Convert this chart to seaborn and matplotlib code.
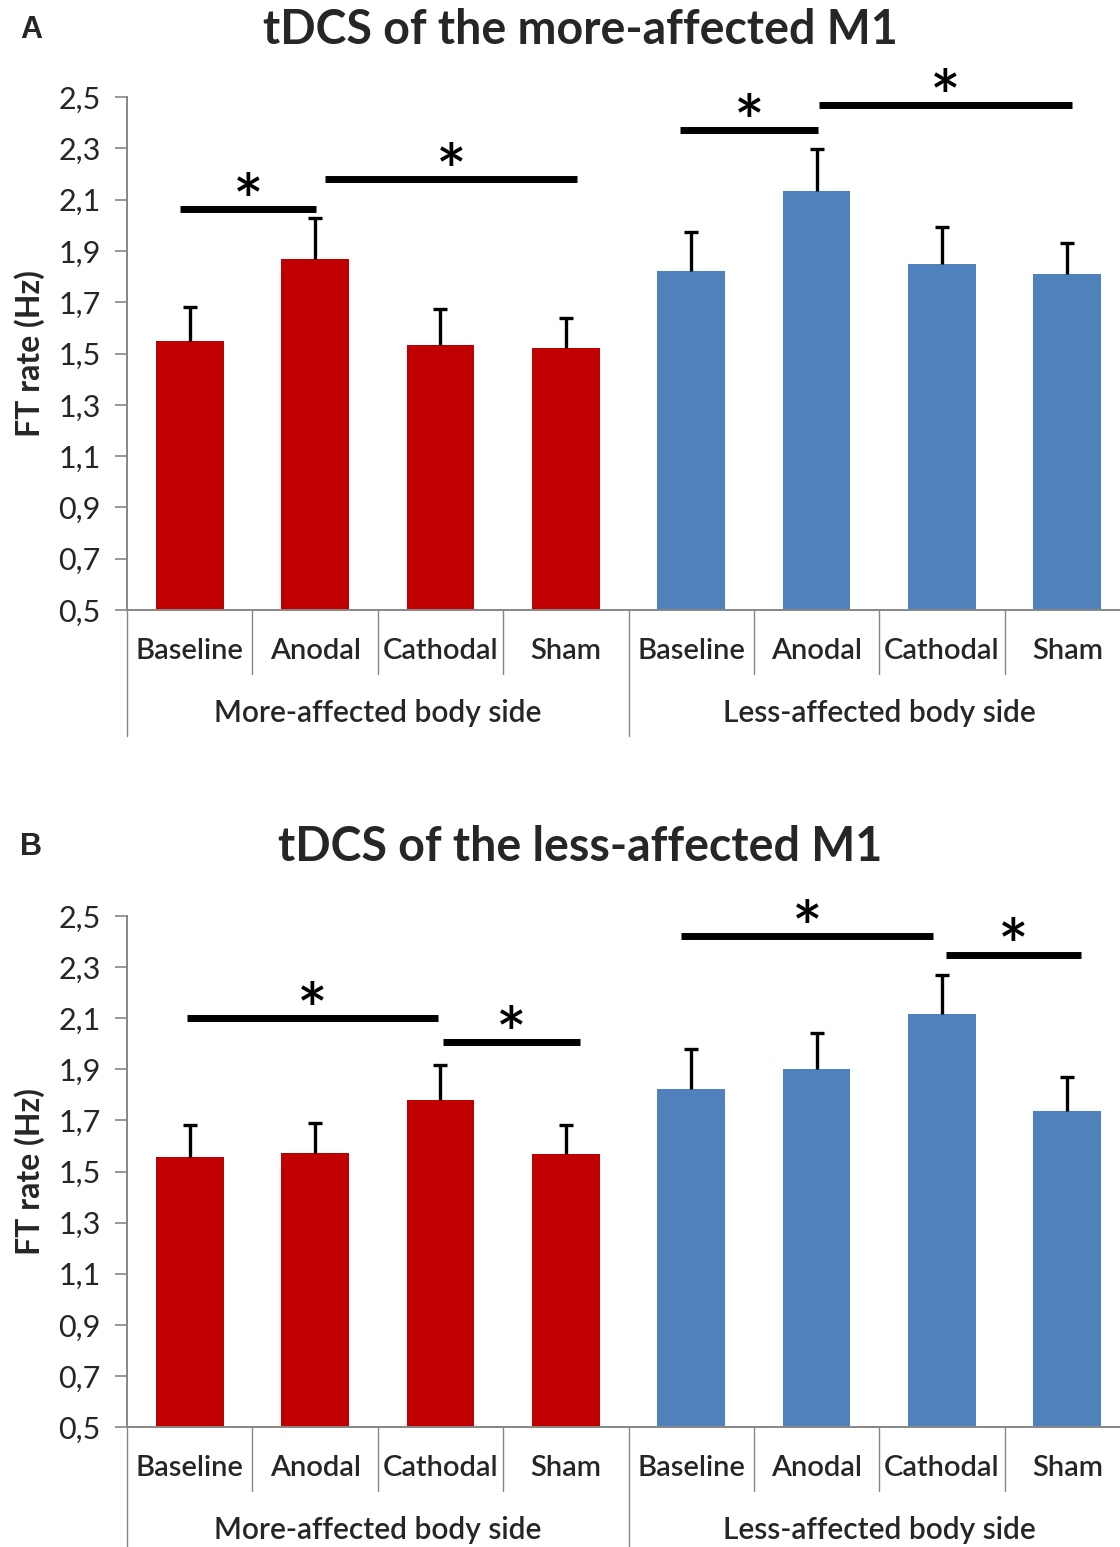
import numpy as np
import pandas as pd
import matplotlib
matplotlib.use('Agg')
import matplotlib.pyplot as plt
import matplotlib.transforms as mtransforms
from matplotlib.ticker import FuncFormatter
import seaborn as sns

sns.set_theme(style='white')
plt.rcParams['font.family'] = ['Lato', 'DejaVu Sans']

# data
categories = ['Baseline', 'Anodal', 'Cathodal', 'Sham']
sides = ['More-affected body side', 'Less-affected body side']
titles = ['tDCS of the more-affected M1', 'tDCS of the less-affected M1']
panel_letters = ['A', 'B']

a_more = [1.550, 1.870, 1.533, 1.521]
a_more_err = [0.130, 0.157, 0.141, 0.117]
a_less = [1.820, 2.132, 1.850, 1.809]
a_less_err = [0.153, 0.165, 0.145, 0.121]

b_more = [1.556, 1.574, 1.779, 1.567]
b_more_err = [0.127, 0.116, 0.139, 0.116]
b_less = [1.821, 1.900, 2.115, 1.735]
b_less_err = [0.159, 0.144, 0.153, 0.136]

# significance brackets: (start, end, height) in category units
a_sig = [(-0.08, 1.01, 2.065), (1.08, 3.09, 2.179), (3.91, 5.01, 2.373), (5.02, 7.04, 2.469)]
b_sig = [(-0.02, 1.98, 2.102), (2.02, 3.11, 2.006), (3.92, 5.93, 2.422), (6.03, 7.11, 2.349)]

yticks = [0.5, 0.7, 0.9, 1.1, 1.3, 1.5, 1.7, 1.9, 2.1, 2.3, 2.5]
colors = {sides[0]: '#C00000', sides[1]: '#4F81BD'}
gray = '#868686'

panels = [
    (a_more, a_more_err, a_less, a_less_err, a_sig),
    (b_more, b_more_err, b_less, b_less_err, b_sig),
]

fig = plt.figure(figsize=(11.2, 15.47), dpi=100)
axes_pos = [[127 / 1120, 1 - 610 / 1547, 993 / 1120, 513 / 1547],
            [127 / 1120, 1 - 1427 / 1547, 993 / 1120, 511 / 1547]]
title_y = [1 - 30 / 1547, 1 - 847 / 1547]

for i, (more, more_err, less, less_err, sig) in enumerate(panels):
    ax = fig.add_axes(axes_pos[i])
    df = pd.DataFrame({
        'key': [f'{s}|{c}' for s in sides for c in categories],
        'cat': categories * 2,
        'side': [sides[0]] * 4 + [sides[1]] * 4,
        'value': more + less,
        'err': more_err + less_err,
    })
    sns.barplot(data=df, x='key', y='value', hue='side', dodge=False,
                palette=colors, saturation=1, width=0.54, ax=ax, legend=False,
                order=list(df['key']), linewidth=0)
    xs = np.arange(len(df))
    eb = ax.errorbar(xs, df['value'], yerr=[np.zeros(len(df)), df['err']],
                     fmt='none', ecolor='black', elinewidth=2.4, capsize=5,
                     capthick=2.4, zorder=3)
    eb[1][0].set_visible(False)  # only the upper cap

    ax.set_ylim(0.5, 2.5)
    ax.set_xlim(-0.5, 7.42)
    ax.set_yticks(yticks)
    ax.yaxis.set_major_formatter(FuncFormatter(lambda v, p: f'{v:.1f}'.replace('.', ',')))
    ax.tick_params(axis='y', which='major', left=True, length=9, width=1.2,
                   color=gray, labelsize=22, pad=10, direction='out')
    ax.set_xticks(xs)
    ax.set_xticklabels(df['cat'], fontsize=21, fontweight='semibold')
    ax.tick_params(axis='x', length=0, pad=20)
    ax.set_xlabel('')
    ax.set_ylabel('FT rate (Hz)', fontsize=23, fontweight='bold')
    ax.yaxis.set_label_coords(-0.083, 0.5)
    for sp in ['top', 'right']:
        ax.spines[sp].set_visible(False)
    for sp in ['left', 'bottom']:
        ax.spines[sp].set_color(gray)
        ax.spines[sp].set_linewidth(1.4)

    # two-level category axis
    trans = mtransforms.blended_transform_factory(ax.transData, ax.transAxes)
    h = 513
    for x in [0.5, 1.5, 2.5, 4.5, 5.5, 6.5]:
        ax.plot([x, x], [0, -64 / h], transform=trans, clip_on=False, color=gray, lw=1)
    for x in [-0.5, 3.5, 7.5]:
        ax.plot([x, x], [0, -126 / h], transform=trans, clip_on=False, color=gray, lw=1)
    for j, s in enumerate(sides):
        ax.text(1.5 + 4 * j, -103 / h, s, transform=trans, ha='center', va='center',
                fontsize=21.5, fontweight='semibold')

    # significance brackets
    for x0, x1, y in sig:
        ax.plot([x0, x1], [y, y], color='black', lw=5, solid_capstyle='butt', clip_on=False)
        ax.text((x0 + x1) / 2, y - 0.066, '*', ha='center', va='baseline', fontsize=52,
                fontweight='semibold', color='black', clip_on=False)

    fig.text(580 / 1120, title_y[i], titles[i], ha='center', va='center',
             fontsize=33.5, fontweight='bold')
    fig.text(31 / 1120, title_y[i], panel_letters[i], ha='center', va='center',
             fontsize=22, fontweight='bold', family=['Liberation Sans', 'DejaVu Sans'])

fig.savefig('out.png', dpi=100, facecolor='white')
